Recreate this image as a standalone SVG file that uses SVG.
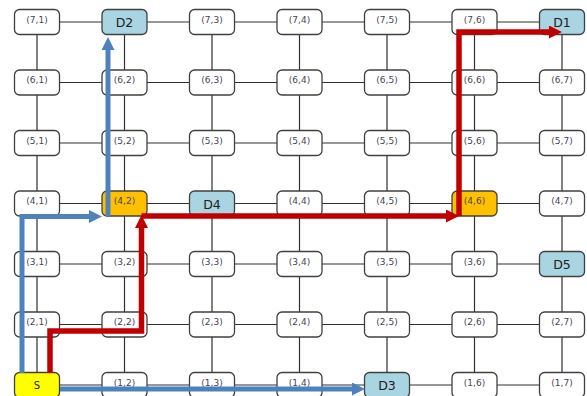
<svg xmlns="http://www.w3.org/2000/svg" width="587" height="396" viewBox="0 0 587 396">
<style>
.g{stroke:#303030;stroke-width:1.2;fill:none}
.n{fill:#ffffff;stroke:#404040;stroke-width:1.3}
.d{fill:#a9d4e2;stroke:#404040;stroke-width:1.3}
.s{fill:#ffff00;stroke:#404040;stroke-width:1.3}
.o{fill:#ffc000;stroke:#404040;stroke-width:1.3}
.t{font-family:"DejaVu Sans",Verdana,sans-serif;font-size:9px;fill:#454555;text-anchor:middle}
.L{font-family:"DejaVu Sans",Verdana,sans-serif;font-size:12.5px;fill:#202020;text-anchor:middle}
.S{font-family:"DejaVu Sans",Verdana,sans-serif;font-size:10px;fill:#202020;text-anchor:middle}
.b{stroke:#4f81bd;stroke-width:5;fill:none}
.r{stroke:#c00000;stroke-width:5.5;fill:none}
</style>
<defs>
<marker id="ab" markerUnits="userSpaceOnUse" markerWidth="14" markerHeight="14" refX="1" refY="6.5" orient="auto"><path d="M0,0 L13,6.5 L0,13 z" fill="#4f81bd"/></marker>
<marker id="ar" markerUnits="userSpaceOnUse" markerWidth="14" markerHeight="14" refX="1" refY="6.5" orient="auto"><path d="M0,0 L13,6.5 L0,13 z" fill="#c00000"/></marker>
</defs>
<g id="grid">
<path class="g" d="M37,22H562M37,82.5H562M37,143H562M37,203.5H562M37,264H562M37,324.5H562M37,385H562"/>
<path class="g" d="M37,22V396M124.5,22V396M212,22V396M299.5,22V396M387,22V396M474.5,22V396M562,22V396"/>
</g>
<g id="n71"><rect class="n" x="14.5" y="9.5" width="45" height="25" rx="5"/><text class="t" x="37" y="22.5">(7,1)</text></g>
<g id="D2"><rect class="d" x="102" y="9.5" width="45" height="25" rx="5"/><text class="L" x="124.5" y="27">D2</text></g>
<g id="n73"><rect class="n" x="189.5" y="9.5" width="45" height="25" rx="5"/><text class="t" x="212" y="22.5">(7,3)</text></g>
<g id="n74"><rect class="n" x="277" y="9.5" width="45" height="25" rx="5"/><text class="t" x="299.5" y="22.5">(7,4)</text></g>
<g id="n75"><rect class="n" x="364.5" y="9.5" width="45" height="25" rx="5"/><text class="t" x="387" y="22.5">(7,5)</text></g>
<g id="n76"><rect class="n" x="452" y="9.5" width="45" height="25" rx="5"/><text class="t" x="474.5" y="22.5">(7,6)</text></g>
<g id="D1"><rect class="d" x="539.5" y="9.5" width="45" height="25" rx="5"/><text class="L" x="562" y="27">D1</text></g>

<g id="n61"><rect class="n" x="14.5" y="70" width="45" height="25" rx="5"/><text class="t" x="37" y="83">(6,1)</text></g>
<g id="n62"><rect class="n" x="102" y="70" width="45" height="25" rx="5"/><text class="t" x="124.5" y="83">(6,2)</text></g>
<g id="n63"><rect class="n" x="189.5" y="70" width="45" height="25" rx="5"/><text class="t" x="212" y="83">(6,3)</text></g>
<g id="n64"><rect class="n" x="277" y="70" width="45" height="25" rx="5"/><text class="t" x="299.5" y="83">(6,4)</text></g>
<g id="n65"><rect class="n" x="364.5" y="70" width="45" height="25" rx="5"/><text class="t" x="387" y="83">(6,5)</text></g>
<g id="n66"><rect class="n" x="452" y="70" width="45" height="25" rx="5"/><text class="t" x="474.5" y="83">(6,6)</text></g>
<g id="n67"><rect class="n" x="539.5" y="70" width="45" height="25" rx="5"/><text class="t" x="562" y="83">(6,7)</text></g>

<g id="n51"><rect class="n" x="14.5" y="130.5" width="45" height="25" rx="5"/><text class="t" x="37" y="143.5">(5,1)</text></g>
<g id="n52"><rect class="n" x="102" y="130.5" width="45" height="25" rx="5"/><text class="t" x="124.5" y="143.5">(5,2)</text></g>
<g id="n53"><rect class="n" x="189.5" y="130.5" width="45" height="25" rx="5"/><text class="t" x="212" y="143.5">(5,3)</text></g>
<g id="n54"><rect class="n" x="277" y="130.5" width="45" height="25" rx="5"/><text class="t" x="299.5" y="143.5">(5,4)</text></g>
<g id="n55"><rect class="n" x="364.5" y="130.5" width="45" height="25" rx="5"/><text class="t" x="387" y="143.5">(5,5)</text></g>
<g id="n56"><rect class="n" x="452" y="130.5" width="45" height="25" rx="5"/><text class="t" x="474.5" y="143.5">(5,6)</text></g>
<g id="n57"><rect class="n" x="539.5" y="130.5" width="45" height="25" rx="5"/><text class="t" x="562" y="143.5">(5,7)</text></g>

<g id="n41"><rect class="n" x="14.5" y="191" width="45" height="25" rx="5"/><text class="t" x="37" y="204">(4,1)</text></g>
<g id="n42"><rect class="o" x="102" y="191" width="45" height="25" rx="5"/><text class="t" x="124.5" y="204">(4,2)</text></g>
<g id="D4"><rect class="d" x="189.5" y="191" width="45" height="25" rx="5"/><text class="L" x="212" y="208.5">D4</text></g>
<g id="n44"><rect class="n" x="277" y="191" width="45" height="25" rx="5"/><text class="t" x="299.5" y="204">(4,4)</text></g>
<g id="n45"><rect class="n" x="364.5" y="191" width="45" height="25" rx="5"/><text class="t" x="387" y="204">(4,5)</text></g>
<g id="n46"><rect class="o" x="452" y="191" width="45" height="25" rx="5"/><text class="t" x="474.5" y="204">(4,6)</text></g>
<g id="n47"><rect class="n" x="539.5" y="191" width="45" height="25" rx="5"/><text class="t" x="562" y="204">(4,7)</text></g>

<g id="n31"><rect class="n" x="14.5" y="251.5" width="45" height="25" rx="5"/><text class="t" x="37" y="264.5">(3,1)</text></g>
<g id="n32"><rect class="n" x="102" y="251.5" width="45" height="25" rx="5"/><text class="t" x="124.5" y="264.5">(3,2)</text></g>
<g id="n33"><rect class="n" x="189.5" y="251.5" width="45" height="25" rx="5"/><text class="t" x="212" y="264.5">(3,3)</text></g>
<g id="n34"><rect class="n" x="277" y="251.5" width="45" height="25" rx="5"/><text class="t" x="299.5" y="264.5">(3,4)</text></g>
<g id="n35"><rect class="n" x="364.5" y="251.5" width="45" height="25" rx="5"/><text class="t" x="387" y="264.5">(3,5)</text></g>
<g id="n36"><rect class="n" x="452" y="251.5" width="45" height="25" rx="5"/><text class="t" x="474.5" y="264.5">(3,6)</text></g>
<g id="D5"><rect class="d" x="539.5" y="251.5" width="45" height="25" rx="5"/><text class="L" x="562" y="269">D5</text></g>

<g id="n21"><rect class="n" x="14.5" y="312" width="45" height="25" rx="5"/><text class="t" x="37" y="325">(2,1)</text></g>
<g id="n22"><rect class="n" x="102" y="312" width="45" height="25" rx="5"/><text class="t" x="124.5" y="325">(2,2)</text></g>
<g id="n23"><rect class="n" x="189.5" y="312" width="45" height="25" rx="5"/><text class="t" x="212" y="325">(2,3)</text></g>
<g id="n24"><rect class="n" x="277" y="312" width="45" height="25" rx="5"/><text class="t" x="299.5" y="325">(2,4)</text></g>
<g id="n25"><rect class="n" x="364.5" y="312" width="45" height="25" rx="5"/><text class="t" x="387" y="325">(2,5)</text></g>
<g id="n26"><rect class="n" x="452" y="312" width="45" height="25" rx="5"/><text class="t" x="474.5" y="325">(2,6)</text></g>
<g id="n27"><rect class="n" x="539.5" y="312" width="45" height="25" rx="5"/><text class="t" x="562" y="325">(2,7)</text></g>

<g id="S"><rect class="s" x="14.5" y="372.5" width="45" height="25" rx="5"/><text class="S" x="37" y="389">S</text></g>
<g id="n12"><rect class="n" x="102" y="372.5" width="45" height="25" rx="5"/><text class="t" x="124.5" y="385.5">(1,2)</text></g>
<g id="n13"><rect class="n" x="189.5" y="372.5" width="45" height="25" rx="5"/><text class="t" x="212" y="385.5">(1,3)</text></g>
<g id="n14"><rect class="n" x="277" y="372.5" width="45" height="25" rx="5"/><text class="t" x="299.5" y="385.5">(1,4)</text></g>
<g id="D3"><rect class="d" x="364.5" y="372.5" width="45" height="25" rx="5"/><text class="L" x="387" y="390">D3</text></g>
<g id="n16"><rect class="n" x="452" y="372.5" width="45" height="25" rx="5"/><text class="t" x="474.5" y="385.5">(1,6)</text></g>
<g id="n17"><rect class="n" x="539.5" y="372.5" width="45" height="25" rx="5"/><text class="t" x="562" y="385.5">(1,7)</text></g>

<g id="paths">
<path class="b" d="M22,373V216.5H90" marker-end="url(#ab)"/>
<path class="b" d="M108,216V49" marker-end="url(#ab)"/>
<path class="b" d="M60,389H353" marker-end="url(#ab)"/>
<path class="r" d="M50,373V331H141.5V227" marker-end="url(#ar)"/>
<path class="r" d="M141.5,216H447" marker-end="url(#ar)"/>
<path class="r" d="M459,216V32H550" marker-end="url(#ar)"/>
</g>
</svg>
